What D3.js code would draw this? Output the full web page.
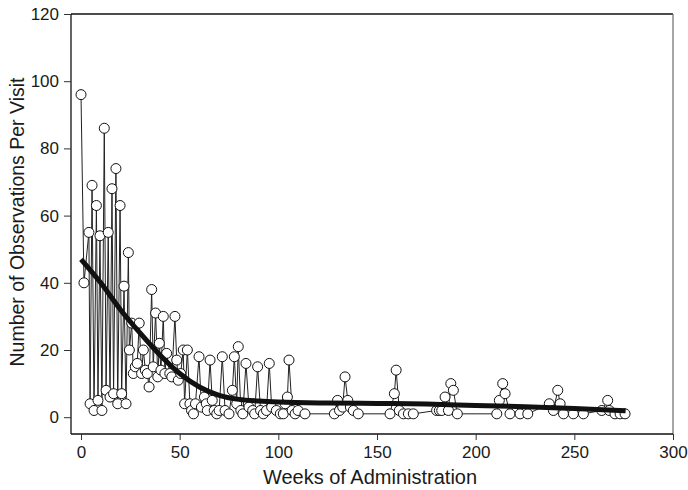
<!DOCTYPE html>
<html>
<head>
<meta charset="utf-8">
<script src="https://cdn.jsdelivr.net/npm/d3@7"></script>
<style>
  body { margin: 0; background: #fff; }
  text { font-family: "Liberation Sans", Arial, sans-serif; }
</style>
</head>
<body>
<div id="chart"></div>
<script>
// observed visits (weeks, count)
var weeks = [0, 1.5, 4, 4.6, 5.6, 6.6, 7.8, 8.6, 9.6, 10.6, 11.8, 12.7, 13.8, 14.7, 15.7, 16.5, 17.7, 18.6, 19.8, 20.6,
  21.8, 22.8, 24, 24.5, 25.7, 26.5, 27.5, 28.5, 29.5, 30.7, 31.6, 32.6, 33.6, 34.5, 35.8, 36.6, 37.8, 38.9, 39.7, 40.5,
  41.7, 42.5, 43.4, 45, 46, 47.6, 48.5, 49.3, 50.5, 51.8, 52.5, 53.9, 55.2, 56, 57, 58, 59.8, 61, 62.5, 63.5,
  64, 65.4, 66.5, 67.5, 68.8, 70, 71.6, 73, 75, 76.7, 77.7, 78.9, 79.7, 81, 82, 83.6, 85.1, 87, 88, 89.5,
  91, 92.4, 94, 95.4, 96.6, 99, 101, 102.5, 103.5, 104.6, 105.4, 107, 108.5, 110, 113.5, 128.4, 130, 131, 132.6, 133.8,
  135.2, 136.5, 138, 140.5, 156.6, 158.8, 159.7, 161.3, 163.4, 165.9, 168.4, 180.2, 181.6, 182.8, 184.5, 186.2, 187.4, 188.7, 190.7, 210.7,
  212, 213.7, 214.9, 217.4, 222.5, 226.4, 237.3, 239.4, 241.6, 242.8, 244.5, 249.5, 254.6, 263.9, 266.9, 267.7, 270.6, 273.2, 275.7];
var counts = [96, 40, 55, 4, 69, 2, 63, 5, 54, 2, 86, 8, 55, 6, 68, 7, 74, 4, 63, 7,
  39, 4, 49, 20, 28, 13, 15, 16, 28, 13, 20, 14, 13, 9, 38, 15, 31, 12, 22, 14,
  30, 13, 19, 13, 12, 30, 17, 11, 13, 20, 4, 20, 4, 2, 1, 4, 18, 3, 6, 4,
  2, 17, 5, 2, 1, 2, 18, 2, 1, 8, 18, 4, 21, 2, 1, 16, 3, 2, 1, 15,
  2, 1, 2, 16, 3, 2, 1, 1, 4, 6, 17, 2, 1, 2, 1, 1, 5, 2, 3, 12,
  5, 3, 2, 1, 1, 7, 14, 2, 1, 1, 1, 2, 2, 2, 6, 2, 10, 8, 1, 1,
  5, 10, 7, 1, 1, 1, 4, 2, 8, 4, 1, 1, 1, 2, 5, 2, 1, 1, 1];

// smoothed trend
var fitWeeks = [0, 10, 20, 30, 40, 50, 60, 70, 80, 90, 100, 125, 150, 175, 200, 225, 250, 276];
var fitCounts = [47, 40, 32, 25, 18.5, 13, 9, 6.5, 5.3, 4.8, 4.5, 4.2, 4.1, 3.9, 3.5, 3.1, 2.6, 1.9];

var xTicks = [0, 50, 100, 150, 200, 250, 300];
var yTicks = [0, 20, 40, 60, 80, 100, 120];

var svgWidth = 688;
var svgHeight = 490;

var margin = { top: 14, left: 71, right: 15, bottom: 56 };

var svg = d3.select("#chart")
  .append("svg")
  .attr("width", svgWidth)
  .attr("height", svgHeight);

var x = d3.scaleLinear().domain([-5.07, 300]).range([margin.left, svgWidth - margin.right]);
var y = d3.scaleLinear().domain([-5, 120]).range([svgHeight - margin.bottom, margin.top]);

var data = weeks.map(function (w, i) { return { w: w, c: counts[i] }; });
var fit = fitWeeks.map(function (w, i) { return { w: w, c: fitCounts[i] }; });

// frame: top and right
svg.append("line")
  .attr("x1", margin.left).attr("x2", svgWidth - margin.right)
  .attr("y1", margin.top).attr("y2", margin.top)
  .attr("stroke", "#111").attr("stroke-width", 1.3);
svg.append("line")
  .attr("x1", svgWidth - margin.right).attr("x2", svgWidth - margin.right)
  .attr("y1", margin.top).attr("y2", svgHeight - margin.bottom)
  .attr("stroke", "#777").attr("stroke-width", 1.3);

var xAxis = d3.axisBottom(x).tickValues(xTicks).tickSize(6).tickSizeOuter(0).tickPadding(6);
var yAxis = d3.axisLeft(y).tickValues(yTicks).tickSize(7).tickSizeOuter(0).tickPadding(5);

var gx = svg.append("g")
  .attr("transform", `translate(0, ${svgHeight - margin.bottom})`)
  .call(xAxis);
var gy = svg.append("g")
  .attr("transform", `translate(${margin.left}, 0)`)
  .call(yAxis);

[gx, gy].forEach(function (g) {
  g.select(".domain").attr("stroke", "#111").attr("stroke-width", 1.3);
  g.selectAll(".tick line").attr("stroke", "#333");
  g.selectAll(".tick text").attr("font-size", 17).attr("fill", "#1a1a1a")
    .attr("font-family", "'Liberation Sans', Arial, sans-serif");
});
gx.select(".domain").attr("d", `M${margin.left},0H${svgWidth - margin.right}`);
gy.select(".domain").attr("d", `M0,${margin.top}V${svgHeight - margin.bottom}`);

// connecting line
svg.append("path")
  .datum(data)
  .attr("fill", "none")
  .attr("stroke", "#222")
  .attr("stroke-width", 1)
  .attr("d", d3.line().x(d => x(d.w)).y(d => y(d.c)));

svg.selectAll("circle.obs")
  .data(data)
  .enter()
  .append("circle")
  .attr("class", "obs")
  .attr("cx", d => x(d.w))
  .attr("cy", d => y(d.c))
  .attr("r", 5)
  .attr("fill", "white")
  .attr("stroke", "#111")
  .attr("stroke-width", 1);

// trend line on top
svg.append("path")
  .datum(fit)
  .attr("fill", "none")
  .attr("stroke", "#111")
  .attr("stroke-width", 5)
  .attr("stroke-linecap", "butt")
  .attr("d", d3.line().curve(d3.curveMonotoneX).x(d => x(d.w)).y(d => y(d.c)));

svg.append("text")
  .attr("transform", `translate(${(margin.left + svgWidth - margin.right) / 2 - 2}, ${svgHeight - 6})`)
  .attr("text-anchor", "middle")
  .attr("font-size", 20)
  .attr("fill", "#1a1a1a")
  .text("Weeks of Administration");

svg.append("text")
  .attr("transform", `translate(24, ${(margin.top + svgHeight - margin.bottom) / 2 - 2}) rotate(-90)`)
  .attr("text-anchor", "middle")
  .attr("font-size", 19.5)
  .attr("fill", "#1a1a1a")
  .text("Number of Observations Per Visit");
</script>
</body>
</html>
